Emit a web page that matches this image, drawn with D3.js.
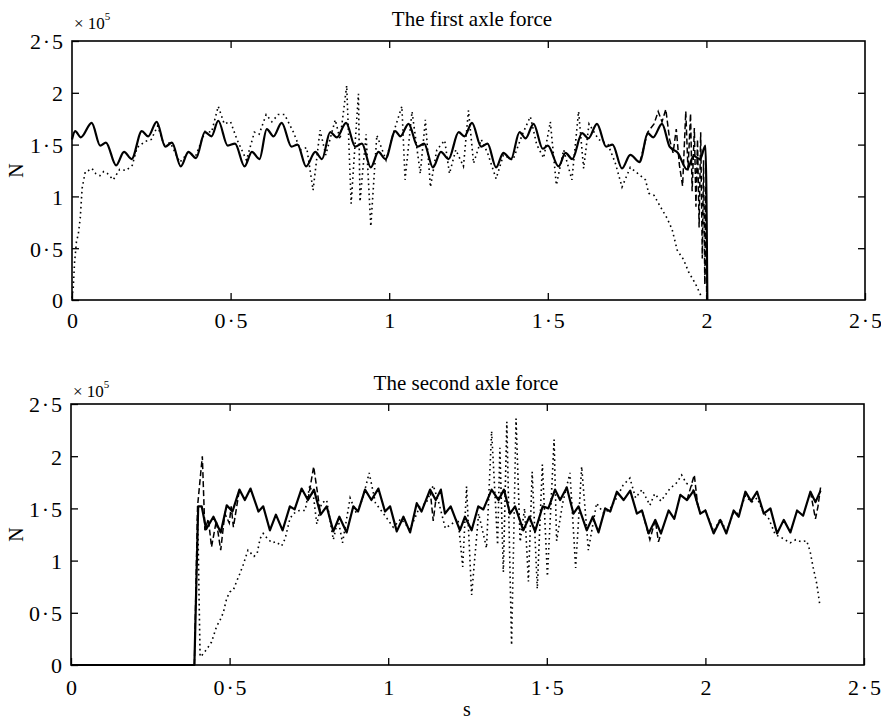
<!DOCTYPE html>
<html>
<head>
<meta charset="utf-8">
<script src="https://cdn.jsdelivr.net/npm/d3@7"></script>
<style>
  body { margin: 0; background: #fff; }
  text { font-family: "Liberation Serif", "Times New Roman", serif; fill: #000; }
</style>
</head>
<body>
<script>
// ---- data: [time s, force x1e5 N] ----
var xTicks = [0, 0.5, 1, 1.5, 2, 2.5];
var yTicks = [0, 0.5, 1, 1.5, 2, 2.5];

// first axle
var topSolid = [[0.000,1.55],[0.010,1.63],[0.028,1.57],[0.062,1.71],[0.089,1.49],[0.107,1.52],[0.139,1.30],[0.164,1.43],[0.188,1.36],[0.220,1.63],[0.240,1.58],[0.267,1.72],[0.294,1.48],[0.315,1.52],[0.343,1.29],[0.367,1.43],[0.391,1.37],[0.419,1.62],[0.440,1.58],[0.461,1.73],[0.491,1.49],[0.514,1.51],[0.544,1.29],[0.567,1.43],[0.591,1.36],[0.614,1.65],[0.635,1.58],[0.661,1.71],[0.692,1.48],[0.711,1.50],[0.738,1.29],[0.767,1.43],[0.788,1.36],[0.814,1.62],[0.835,1.57],[0.864,1.71],[0.893,1.48],[0.914,1.51],[0.942,1.28],[0.966,1.43],[0.988,1.36],[1.019,1.63],[1.035,1.58],[1.061,1.70],[1.090,1.48],[1.110,1.51],[1.138,1.28],[1.163,1.43],[1.187,1.36],[1.219,1.62],[1.237,1.58],[1.261,1.71],[1.290,1.48],[1.310,1.51],[1.337,1.28],[1.360,1.42],[1.384,1.36],[1.411,1.62],[1.430,1.56],[1.455,1.70],[1.484,1.46],[1.500,1.49],[1.534,1.29],[1.556,1.42],[1.577,1.36],[1.608,1.61],[1.628,1.56],[1.655,1.70],[1.684,1.48],[1.704,1.50],[1.734,1.27],[1.760,1.40],[1.790,1.33],[1.815,1.61],[1.832,1.57],[1.860,1.70],[1.884,1.48],[1.910,1.42],[1.939,1.26],[1.960,1.39],[1.980,1.36],[1.997,1.49],[2.003,0.00]];

var topDotted = [[0.000,0.02],[0.004,0.12],[0.008,0.36],[0.014,0.56],[0.020,0.64],[0.026,0.79],[0.032,1.08],[0.042,1.24],[0.052,1.25],[0.063,1.27],[0.075,1.22],[0.088,1.20],[0.100,1.24],[0.112,1.22],[0.130,1.16],[0.150,1.26],[0.170,1.25],[0.190,1.30],[0.205,1.47],[0.230,1.53],[0.250,1.55],[0.270,1.68],[0.290,1.50],[0.310,1.52],[0.340,1.33],[0.365,1.42],[0.390,1.39],[0.420,1.63],[0.440,1.62],[0.461,1.87],[0.480,1.70],[0.500,1.72],[0.520,1.55],[0.550,1.35],[0.575,1.62],[0.590,1.60],[0.612,1.79],[0.630,1.72],[0.650,1.79],[0.670,1.79],[0.698,1.62],[0.720,1.45],[0.740,1.47],[0.760,1.06],[0.782,1.64],[0.800,1.40],[0.830,1.74],[0.845,1.55],[0.866,2.07],[0.880,0.93],[0.903,1.99],[0.908,0.95],[0.927,1.60],[0.942,0.71],[0.961,1.59],[0.990,1.35],[1.014,1.62],[1.040,1.87],[1.050,1.16],[1.072,1.82],[1.098,1.22],[1.114,1.74],[1.130,1.09],[1.150,1.45],[1.175,1.54],[1.190,1.22],[1.210,1.45],[1.234,1.29],[1.250,1.83],[1.266,1.32],[1.290,1.55],[1.310,1.42],[1.337,1.17],[1.360,1.40],[1.390,1.35],[1.420,1.60],[1.445,1.77],[1.465,1.50],[1.487,1.37],[1.508,1.72],[1.527,1.11],[1.550,1.45],[1.576,1.16],[1.597,1.82],[1.613,1.27],[1.630,1.70],[1.660,1.55],[1.690,1.50],[1.713,1.32],[1.734,1.09],[1.760,1.28],[1.792,1.20],[1.808,1.16],[1.818,1.03],[1.835,1.01],[1.855,0.90],[1.876,0.79],[1.892,0.68],[1.908,0.48],[1.928,0.39],[1.944,0.27],[1.965,0.16],[1.986,0.02]];

var topDashed = [[1.790,1.33],[1.815,1.62],[1.835,1.70],[1.848,1.82],[1.860,1.72],[1.872,1.84],[1.884,1.55],[1.895,1.42],[1.905,1.65],[1.915,1.30],[1.925,1.10],[1.935,1.82],[1.942,1.25],[1.950,1.80],[1.955,1.05],[1.962,1.66],[1.967,0.90],[1.972,1.55],[1.977,0.70],[1.982,1.62],[1.987,0.40],[1.991,1.35],[1.995,0.15],[1.998,1.10],[2.001,0.00]];

// second axle
var botSolid = [[0.000,0],[0.389,0],[0.401,1.52],[0.412,1.52],[0.426,1.30],[0.449,1.42],[0.472,1.27],[0.491,1.53],[0.509,1.47],[0.531,1.68],[0.548,1.58],[0.566,1.69],[0.591,1.47],[0.606,1.52],[0.627,1.29],[0.646,1.44],[0.667,1.29],[0.690,1.52],[0.705,1.49],[0.727,1.69],[0.747,1.58],[0.766,1.68],[0.787,1.44],[0.806,1.52],[0.827,1.28],[0.846,1.42],[0.869,1.27],[0.890,1.52],[0.905,1.47],[0.927,1.68],[0.947,1.58],[0.969,1.69],[0.990,1.47],[1.006,1.52],[1.027,1.28],[1.048,1.42],[1.069,1.27],[1.090,1.55],[1.105,1.47],[1.132,1.68],[1.150,1.58],[1.166,1.68],[1.179,1.45],[1.197,1.52],[1.226,1.29],[1.242,1.42],[1.263,1.29],[1.284,1.52],[1.300,1.49],[1.326,1.68],[1.348,1.58],[1.365,1.68],[1.384,1.45],[1.400,1.52],[1.426,1.29],[1.445,1.42],[1.463,1.28],[1.487,1.52],[1.505,1.50],[1.526,1.68],[1.542,1.58],[1.563,1.70],[1.584,1.45],[1.600,1.52],[1.626,1.29],[1.645,1.42],[1.663,1.27],[1.684,1.50],[1.700,1.47],[1.721,1.66],[1.742,1.58],[1.763,1.67],[1.784,1.45],[1.800,1.48],[1.821,1.26],[1.842,1.39],[1.860,1.26],[1.884,1.48],[1.902,1.40],[1.921,1.63],[1.942,1.58],[1.963,1.67],[1.984,1.45],[2.000,1.48],[2.026,1.26],[2.047,1.39],[2.066,1.26],[2.089,1.48],[2.105,1.42],[2.126,1.66],[2.144,1.57],[2.163,1.66],[2.184,1.45],[2.205,1.50],[2.226,1.26],[2.247,1.39],[2.268,1.27],[2.289,1.48],[2.308,1.43],[2.331,1.66],[2.347,1.56],[2.363,1.67]];

var botDotted = [[0.399,1.40],[0.401,1.17],[0.404,0.60],[0.407,0.08],[0.412,0.09],[0.430,0.16],[0.443,0.22],[0.459,0.37],[0.470,0.43],[0.480,0.50],[0.491,0.64],[0.501,0.70],[0.512,0.72],[0.522,0.80],[0.533,0.88],[0.543,0.96],[0.558,1.10],[0.577,1.04],[0.587,1.07],[0.596,1.21],[0.606,1.26],[0.619,1.21],[0.634,1.17],[0.646,1.18],[0.664,1.14],[0.675,1.21],[0.690,1.40],[0.701,1.45],[0.720,1.48],[0.738,1.48],[0.753,1.72],[0.765,1.60],[0.775,1.35],[0.790,1.55],[0.806,1.58],[0.827,1.20],[0.842,1.40],[0.856,1.17],[0.880,1.60],[0.900,1.45],[0.920,1.60],[0.940,1.84],[0.960,1.55],[0.985,1.45],[1.016,1.32],[1.040,1.40],[1.069,1.30],[1.100,1.52],[1.120,1.55],[1.142,1.72],[1.160,1.55],[1.180,1.31],[1.200,1.35],[1.220,1.40],[1.235,0.94],[1.247,1.71],[1.263,0.67],[1.285,1.45],[1.310,1.12],[1.326,2.24],[1.345,1.15],[1.352,2.08],[1.363,0.89],[1.374,2.33],[1.389,0.19],[1.403,2.36],[1.416,1.18],[1.430,1.50],[1.442,0.80],[1.454,1.85],[1.470,0.73],[1.486,1.92],[1.502,0.85],[1.523,2.16],[1.531,1.19],[1.550,1.55],[1.573,1.84],[1.591,0.93],[1.610,1.90],[1.631,1.10],[1.657,1.55],[1.680,1.45],[1.700,1.50],[1.720,1.60],[1.740,1.72],[1.762,1.79],[1.780,1.60],[1.800,1.68],[1.825,1.53],[1.840,1.64],[1.860,1.57],[1.888,1.69],[1.911,1.75],[1.925,1.82],[1.940,1.74],[1.957,1.72],[1.984,1.45],[2.000,1.48],[2.026,1.28],[2.047,1.40],[2.066,1.28],[2.089,1.46],[2.105,1.45],[2.126,1.62],[2.146,1.56],[2.163,1.60],[2.183,1.46],[2.200,1.40],[2.220,1.25],[2.240,1.22],[2.267,1.17],[2.285,1.20],[2.303,1.18],[2.319,1.19],[2.330,1.09],[2.340,0.93],[2.351,0.78],[2.361,0.57]];

// dashed only drawn where it leaves the solid line
var botDashed1 = [[0.389,0.00],[0.399,1.52],[0.414,2.00],[0.422,1.29],[0.433,1.40],[0.443,1.13],[0.458,1.38],[0.472,1.10],[0.485,1.45],[0.499,1.36],[0.505,1.52],[0.512,1.32],[0.531,1.68]];
var botDashed2 = [[0.747,1.58],[0.765,1.90],[0.787,1.44]];
var botDashed3 = [[1.132,1.68],[1.142,1.38],[1.150,1.58]];
var botDashed4 = [[1.800,1.48],[1.825,1.20],[1.842,1.39],[1.852,1.18],[1.860,1.26]];
var botDashed5 = [[1.942,1.58],[1.965,1.82],[1.975,1.55],[1.984,1.45]];
var botDashed6 = [[2.331,1.66],[2.347,1.40],[2.355,1.52],[2.363,1.70]];

// ---- layout ----
var W = 881, H = 722;
var svg = d3.select("body").append("svg").attr("width", W).attr("height", H);

// tick text like "0·5", with a little air round the dot
var fmt = function(d) { return String(d).replace(".", "\u200a\u00b7\u200a"); };

function drawPanel(p) {
  var x = d3.scaleLinear().domain([0, 2.5]).range([p.left, p.right]);
  var y = d3.scaleLinear().domain([0, 2.5]).range([p.bottom, p.top]);
  var g = svg.append("g");

  var line = d3.line().x(function(d) { return x(d[0]); }).y(function(d) { return y(d[1]); });

  // dotted, dashed, solid
  g.append("path").datum(p.dotted)
    .attr("d", line).attr("fill", "none").attr("stroke", "#000")
    .attr("stroke-width", 1.6).attr("stroke-dasharray", "1.6,3.4");

  p.dashed.forEach(function(seg) {
    g.append("path").datum(seg)
      .attr("d", line).attr("fill", "none").attr("stroke", "#000")
      .attr("stroke-width", 1.5).attr("stroke-dasharray", "6,3");
  });

  var solidLine = d3.line().x(function(d) { return x(d[0]); }).y(function(d) { return y(d[1]); })
    .curve(p.smooth ? d3.curveMonotoneX : d3.curveLinear);
  g.append("path").datum(p.solid)
    .attr("d", solidLine).attr("fill", "none").attr("stroke", "#000")
    .attr("stroke-width", 2.2).attr("stroke-linejoin", "round");

  // axes with inward ticks
  var inner = xTicks.slice(1, -1);
  var bottomAx = g.append("g").attr("transform", "translate(0," + p.bottom + ")")
    .call(d3.axisBottom(x).tickValues(xTicks).tickSize(-7).tickPadding(p.xPad).tickFormat(fmt));
  var leftAx = g.append("g").attr("transform", "translate(" + p.left + ",0)")
    .call(d3.axisLeft(y).tickValues(yTicks).tickSize(-7).tickPadding(9).tickFormat(fmt));
  var topAx = g.append("g").attr("transform", "translate(0," + p.top + ")")
    .call(d3.axisTop(x).tickValues(inner).tickSize(-7).tickFormat(""));
  var rightAx = g.append("g").attr("transform", "translate(" + p.right + ",0)")
    .call(d3.axisRight(y).tickValues(yTicks.slice(1, -1)).tickSize(-7).tickFormat(""));

  [bottomAx, leftAx, topAx, rightAx].forEach(function(a) {
    a.attr("font-family", null).attr("font-size", null);
    a.select(".domain").remove();
    a.selectAll("line").attr("stroke", "#000").attr("stroke-width", 1.3);
    a.selectAll("text").style("font-size", "22px").attr("fill", "#000");
  });
  leftAx.selectAll("text").attr("dy", "0.36em");

  g.append("rect")
    .attr("x", p.left).attr("y", p.top)
    .attr("width", p.right - p.left).attr("height", p.bottom - p.top)
    .attr("fill", "none").attr("stroke", "#000").attr("stroke-width", 1.6);

  // title, exponent, y label
  g.append("text").attr("x", p.titleX).attr("y", p.titleY)
    .attr("text-anchor", "middle").style("font-size", "21px").text(p.title);

  var ex = g.append("text").attr("x", p.left + 2).attr("y", p.exY).style("font-size", "17px");
  ex.append("tspan").text("\u00d7 10");
  ex.append("tspan").attr("dy", -9).style("font-size", "11px").text("5");

  g.append("text")
    .attr("transform", "translate(23," + (p.top + p.bottom) / 2 + ") rotate(-90)")
    .attr("text-anchor", "middle").style("font-size", "20px").text("N");
}

drawPanel({
  left: 72, right: 865, top: 41, bottom: 300, xPad: 12, exY: 29,
  title: "The first axle force", titleX: 472, titleY: 26,
  solid: topSolid, dotted: topDotted, dashed: [topDashed], smooth: true
});

drawPanel({
  left: 71, right: 864, top: 404, bottom: 665, xPad: 14, exY: 397,
  title: "The second axle force", titleX: 466, titleY: 390,
  solid: botSolid, dotted: botDotted,
  dashed: [botDashed1, botDashed2, botDashed3, botDashed4, botDashed5, botDashed6],
  smooth: false
});

svg.append("text").attr("x", 467).attr("y", 716)
  .attr("text-anchor", "middle").style("font-size", "20px").text("s");
</script>
</body>
</html>
